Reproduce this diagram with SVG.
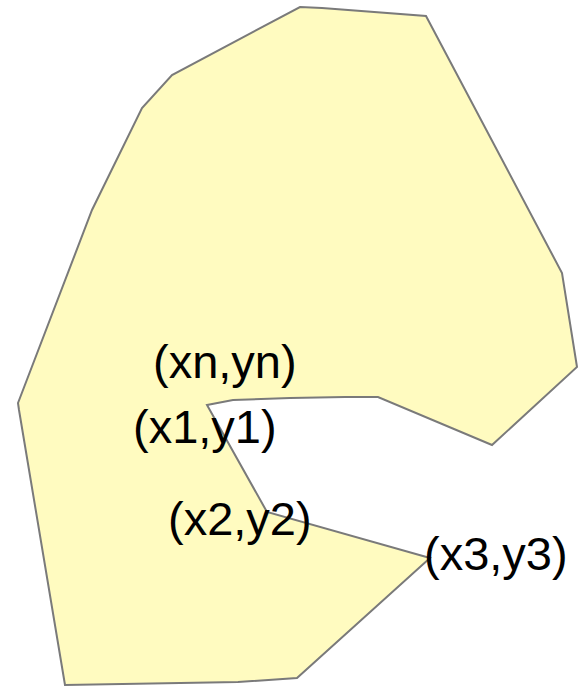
<svg xmlns="http://www.w3.org/2000/svg" width="582" height="687" viewBox="0 0 582 687">
  <style>
    .shape { fill: #fffbc0; stroke: #7a7a7a; stroke-width: 2; stroke-linejoin: miter; }
    .lbl { font-family: "Liberation Sans", Arial, sans-serif; font-size: 47px; fill: #000; }
  </style>
  <rect width="582" height="687" fill="#ffffff"/>
  <polygon class="shape" points="300,7 322,8 426,16 562,273 577,367 492,445 378,397 345,397 290,398 233,400 207,405 267,512 430,558 297,678 238,682 65,685 19,410 18,403 92,210 142,108 172,75"/>
  <text class="lbl" x="153" y="378">(xn,yn)</text>
  <text class="lbl" x="133" y="443">(x1,y1)</text>
  <text class="lbl" x="168" y="535">(x2,y2)</text>
  <text class="lbl" x="424" y="570">(x3,y3)</text>
</svg>
